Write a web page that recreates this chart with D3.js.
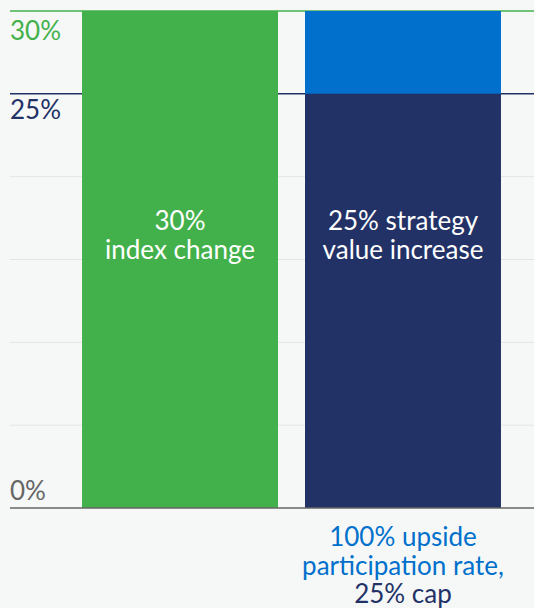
<!DOCTYPE html>
<html>
<head>
<meta charset="utf-8">
<script src="https://cdn.jsdelivr.net/npm/d3@7"></script>
<style>
  body { margin: 0; background: #f6f8f7; }
  svg { display: block; font-family: Lato, "Open Sans", sans-serif; font-weight: 400; }
</style>
</head>
<body>
<div id="chart"></div>
<script>
// chart values
let categories = ["index", "strategy"];
let capValues = [30, 25];        // value shown in the solid (lower) part
let totalValues = [30, 30];      // full height of each bar
let barLabels = [["30%", "index change"], ["25% strategy", "value increase"]];
let tickValues = [0, 25, 30];
let tickLabels = ["0%", "25%", "30%"];
let gridValues = [5, 10, 15, 20];
let footLabels = ["100% upside", "participation rate,", "25% cap"];

let width = 534, height = 608;
let margin = {top: 11, bottom: 100, left: 10};

let svg = d3.select("#chart").append("svg")
    .attr("width", width)
    .attr("height", height);

let x = d3.scaleBand().domain(categories).range([10, 573])
    .paddingInner(27 / 223).paddingOuter(0.323);
let y = d3.scaleLinear().domain([0, 30]).range([height - margin.bottom, margin.top]);

let lowColor = ["#43b14b", "#223266"];
let topColor = ["#43b14b", "#0070cc"];
let tickColor = {0: "#666666", 25: "#223266", 30: "#43b14b"};
let tickOffset = {0: -8.5, 25: 25.5, 30: 28.5};

// faint grid
svg.selectAll(".grid")
    .data(gridValues)
    .enter().append("line")
    .attr("class", "grid")
    .attr("x1", margin.left).attr("x2", width)
    .attr("y1", d => y(d)).attr("y2", d => y(d))
    .attr("stroke", "#e3e5e4").attr("stroke-width", 1);

// reference lines at 25% and 30%
svg.selectAll(".ref")
    .data([25, 30])
    .enter().append("line")
    .attr("class", "ref")
    .attr("x1", margin.left).attr("x2", width)
    .attr("y1", d => y(d)).attr("y2", d => y(d))
    .attr("stroke", d => tickColor[d]).attr("stroke-width", 1.5);

// bars: upper part (cap to total) and lower part (0 to cap)
svg.selectAll(".bar-top")
    .data(categories)
    .enter().append("rect")
    .attr("class", "bar-top")
    .attr("x", d => x(d))
    .attr("width", x.bandwidth())
    .attr("y", (d, i) => y(totalValues[i]))
    .attr("height", (d, i) => y(capValues[i]) - y(totalValues[i]))
    .attr("fill", (d, i) => topColor[i]);

svg.selectAll(".bar-low")
    .data(categories)
    .enter().append("rect")
    .attr("class", "bar-low")
    .attr("x", d => x(d))
    .attr("width", x.bandwidth())
    .attr("y", (d, i) => y(capValues[i]))
    .attr("height", (d, i) => y(0) - y(capValues[i]))
    .attr("fill", (d, i) => lowColor[i]);

// axis baseline
svg.append("line")
    .attr("x1", margin.left).attr("x2", width)
    .attr("y1", y(0)).attr("y2", y(0))
    .attr("stroke", "#666666").attr("stroke-width", 1.5);

// tick labels
svg.selectAll(".tick-label")
    .data(tickValues)
    .enter().append("text")
    .attr("class", "tick-label")
    .attr("x", margin.left)
    .attr("y", d => y(d) + tickOffset[d])
    .attr("font-size", 26)
    .attr("fill", d => tickColor[d])
    .text((d, i) => tickLabels[i]);

// labels inside bars
let inner = svg.selectAll(".bar-label")
    .data(categories)
    .enter().append("text")
    .attr("class", "bar-label")
    .attr("text-anchor", "middle")
    .attr("font-size", 26)
    .attr("fill", "#ffffff");

inner.selectAll("tspan")
    .data((d, i) => barLabels[i].map(t => ({t: t, c: d})))
    .enter().append("tspan")
    .attr("x", d => x(d.c) + x.bandwidth() / 2)
    .attr("y", (d, j) => 229.5 + j * 29)
    .text(d => d.t);

// label under the strategy bar
svg.append("text")
    .attr("text-anchor", "middle")
    .attr("font-size", 26)
    .selectAll("tspan")
    .data(footLabels)
    .enter().append("tspan")
    .attr("x", x("strategy") + x.bandwidth() / 2)
    .attr("y", (d, j) => 546 + j * 28.5)
    .attr("fill", (d, j) => j < 2 ? "#0070cc" : "#223266")
    .text(d => d);
</script>
</body>
</html>
